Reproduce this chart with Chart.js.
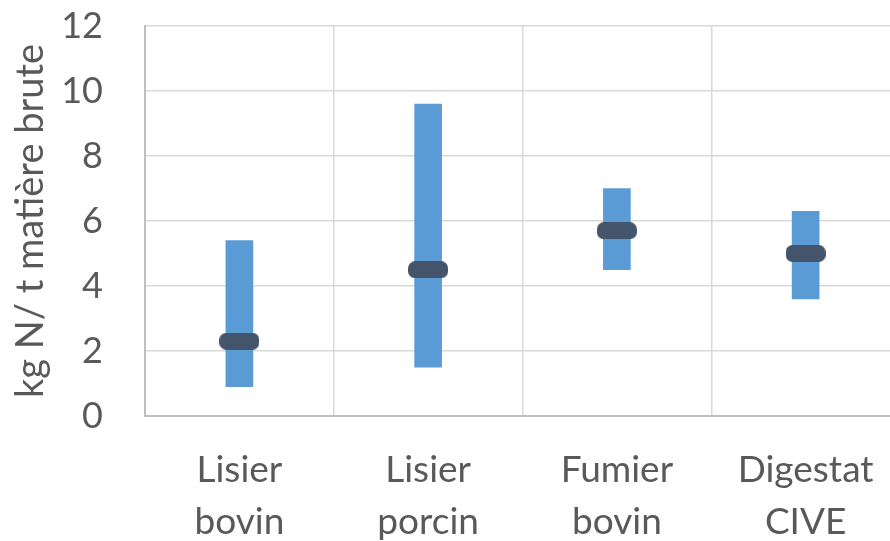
<!DOCTYPE html>
<html>
<head>
<meta charset="utf-8">
<script src="https://cdn.jsdelivr.net/npm/chart.js@4.4.1/dist/chart.umd.min.js"></script>
<style>
  html, body { margin: 0; padding: 0; background: #fff; overflow: hidden; }
  #wrap { width: 905px; height: 541px; }
</style>
</head>
<body>
<div id="wrap"><canvas id="myChart"></canvas></div>
<script>
// categories and values
var categories = [['Lisier', 'bovin'], ['Lisier', 'porcin'], ['Fumier', 'bovin'], ['Digestat', 'CIVE']];
var minValues = [0.9, 1.5, 4.5, 3.6];
var maxValues = [5.4, 9.6, 7.0, 6.3];
var meanValues = [2.3, 4.5, 5.7, 5.0];
var yTicks = [0, 2, 4, 6, 8, 10, 12];

var textColor = '#595959';
var fontFamily = 'Lato, "Noto Sans", sans-serif';

// range bars are [min, max] pairs
var ranges = minValues.map(function (v, i) { return [v, maxValues[i]]; });

// rounded dark marker used as point style for the mean
var marker = document.createElement('canvas');
marker.width = 40;
marker.height = 17;
var mctx = marker.getContext('2d');
mctx.fillStyle = '#44546A';
mctx.beginPath();
mctx.roundRect(0, 0, 40, 17, 7);
mctx.fill();

var ctx = document.getElementById('myChart');
var myChart = new Chart(ctx, {
    type: 'bar',
    data: {
        labels: categories,
        datasets: [{
            type: 'line',
            label: 'Moyenne',
            data: meanValues,
            showLine: false,
            pointStyle: marker,
            order: 0
        }, {
            label: 'Plage',
            data: ranges,
            backgroundColor: '#5B9BD5',
            borderWidth: 0,
            borderSkipped: false,
            barThickness: 27,
            order: 1
        }]
    },
    options: {
        responsive: true,
        maintainAspectRatio: false,
        animation: false,
        layout: { padding: { left: 8, top: 26, right: 0, bottom: 0 } },
        plugins: {
            legend: { display: false },
            tooltip: { enabled: false }
        },
        scales: {
            x: {
                grid: { color: '#D9D9D9', lineWidth: 1.5, drawTicks: false },
                border: { color: '#BFBFBF', width: 2 },
                ticks: {
                    color: textColor,
                    padding: 28,
                    maxRotation: 0,
                    font: { family: fontFamily, size: 37, lineHeight: 1.4 }
                },
                // keep the plot running to the right edge, axis at y=416
                afterFit: function (scale) {
                    scale.height = 125;
                    scale.paddingLeft = 0;
                    scale.paddingRight = 0;
                }
            },
            y: {
                min: 0,
                max: 12,
                afterBuildTicks: function (axis) {
                    axis.ticks = yTicks.map(function (v) { return { value: v }; });
                },
                grid: { color: '#D9D9D9', lineWidth: 1.5, drawTicks: false },
                border: { color: '#BFBFBF', width: 2 },
                ticks: {
                    color: textColor,
                    padding: 42,
                    font: { family: fontFamily, size: 36 }
                },
                title: {
                    display: true,
                    text: 'kg N/ t matière brute',
                    color: textColor,
                    padding: 0,
                    font: { family: fontFamily, size: 38 }
                },
                afterFit: function (scale) {
                    scale.width = 137;
                    scale.paddingTop = 0;
                    scale.paddingBottom = 0;
                }
            }
        }
    }
});
</script>
</body>
</html>
